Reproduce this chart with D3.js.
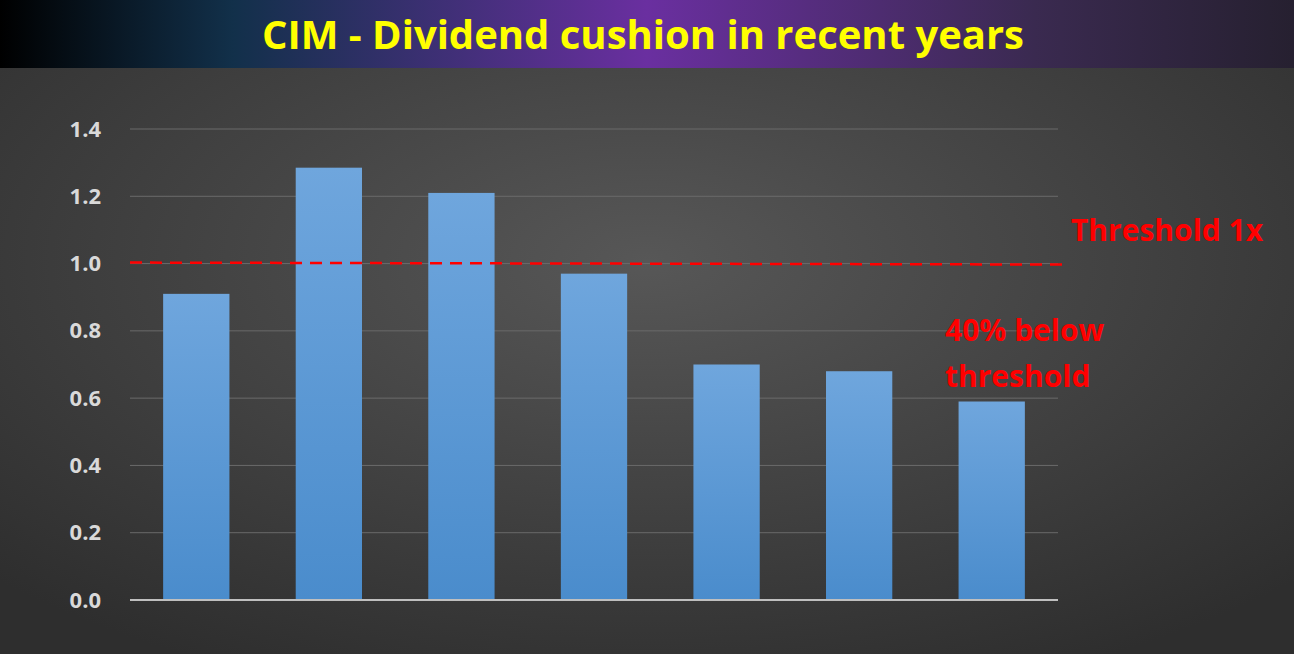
<!DOCTYPE html><html><head><meta charset="utf-8">
<script src="https://cdn.jsdelivr.net/npm/d3@7/dist/d3.min.js"></script>
<style>body{margin:0;background:#3a3a3a}svg{display:block}</style></head><body>
<script>
const categories=["Y1","Y2","Y3","Y4","Y5","Y6","Y7"];
const values=[0.91,1.285,1.21,0.97,0.70,0.68,0.59];
const yTicks=[0,0.2,0.4,0.6,0.8,1.0,1.2,1.4];
const threshold=1.0;
const W=1294,H=654;
const svg=d3.select("body").append("svg").attr("width",W).attr("height",H);
const defs=svg.append("defs");
const bg=defs.append("radialGradient").attr("id","bg").attr("cx","50%").attr("cy","40%").attr("r","70%");
bg.append("stop").attr("offset","0%").attr("stop-color","#575757");
bg.append("stop").attr("offset","100%").attr("stop-color","#2e2e2e");
const tg=defs.append("linearGradient").attr("id","tg");
[["0%","#000000"],["18%","#12304a"],["50%","#6a2fa0"],["80%","#3a2a50"],["100%","#262030"]].forEach(s=>tg.append("stop").attr("offset",s[0]).attr("stop-color",s[1]));
const bgr=defs.append("linearGradient").attr("id","bar").attr("x1",0).attr("y1",0).attr("x2",0).attr("y2",1);
bgr.append("stop").attr("offset","0%").attr("stop-color","#6fa6dd");
bgr.append("stop").attr("offset","100%").attr("stop-color","#4a8ccc");
svg.append("rect").attr("width",W).attr("height",H).attr("fill","url(#bg)");
svg.append("rect").attr("width",W).attr("height",68).attr("fill","url(#tg)");
svg.append("text").attr("x",643).attr("y",49).attr("text-anchor","middle").attr("fill","#ffff00")
 .attr("font-family","Open Sans, sans-serif").attr("font-weight","bold").attr("font-size",40).text("CIM - Dividend cushion in recent years");
const x=d3.scaleBand().domain(categories).range([130,1058]).paddingInner(0.5).paddingOuter(0.25);
const y=d3.scaleLinear().domain([0,1.4]).range([600,129]);
const g=svg.append("g");
g.selectAll("line.grid").data(yTicks.slice(1)).join("line").attr("x1",130).attr("x2",1058)
 .attr("y1",d=>y(d)).attr("y2",d=>y(d)).attr("stroke","#6a6a6a").attr("stroke-width",1);
g.selectAll("rect.b").data(values).join("rect").attr("x",(d,i)=>x(categories[i])).attr("width",x.bandwidth())
 .attr("y",d=>y(d)).attr("height",d=>600-y(d)).attr("fill","url(#bar)");
g.append("line").attr("x1",130).attr("x2",1058).attr("y1",600).attr("y2",600).attr("stroke","#bfbfbf").attr("stroke-width",2);
const ax=svg.append("g").attr("transform","translate(104,0)").call(d3.axisLeft(y).tickValues(yTicks).tickFormat(d3.format(".1f")).tickSize(0));
ax.select(".domain").remove();
ax.selectAll("text").attr("fill","#d9d9d9").attr("font-family","Open Sans, sans-serif").attr("font-weight","bold").attr("font-size",22).attr("dx",0);
g.append("line").attr("x1",130).attr("x2",1065).attr("y1",y(threshold)-1).attr("y2",y(threshold)+1)
 .attr("stroke","#ff0000").attr("stroke-width",2.5).attr("stroke-dasharray","12,8");
const tf={"fill":"#ff0000","font-family":"Open Sans, sans-serif","font-weight":"bold","font-size":30};
function t(xx,yy,s){const e=svg.append("text").attr("x",xx).attr("y",yy).text(s);for(const k in tf)e.attr(k,tf[k]);}
t(1071,241,"Threshold 1x");t(945,341,"40% below");t(945,387,"threshold");
</script></body></html>
